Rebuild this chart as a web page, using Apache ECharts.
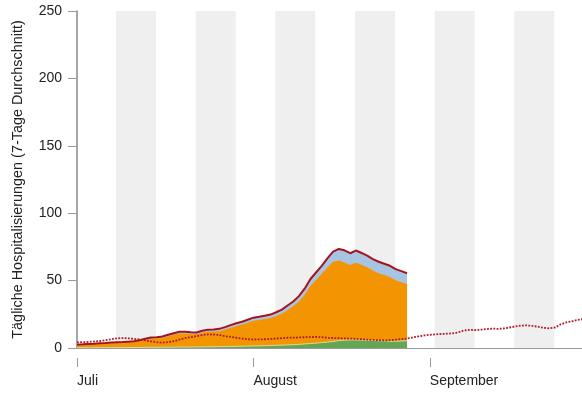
<!DOCTYPE html>
<html><head><meta charset="utf-8">
<script src="https://cdn.jsdelivr.net/npm/echarts@6/dist/echarts.min.js"></script>
<style>html,body{margin:0;padding:0;background:#fff}#c{width:582px;height:395px}</style>
</head><body><div id="c"></div>
<script>
// day index 0 = 1 July
const monthTicks = [0, 31, 62];
const monthLabels = ['Juli', 'August', 'September'];
const yTicks = [0, 50, 100, 150, 200, 250];
// alternating shaded weeks (day offsets)
const weekBandStarts = [6.85, 20.85, 34.85, 48.85, 62.85, 76.85];
const weekBandLength = 7.03;

// vaccinated (green)
const geimpft = [0.2,0.2,0.2,0.2,0.2,0.3,0.3,0.3,0.3,0.3,
  0.4,0.4,0.5,0.5,0.5,0.6,0.6,0.6,0.7,0.7,
  0.7,0.8,0.8,0.9,0.9,1.0,1.0,1.1,1.2,1.3,
  1.4,1.5,1.6,1.7,1.8,2.0,2.1,2.3,2.5,2.7,
  3.0,3.3,3.6,4.0,4.4,4.8,5.5,5.8,6.0,6.0,
  5.8,5.7,5.6,5.4,5.2,5.0,5.0,5.2,5.4];
// unvaccinated (orange)
const ungeimpft = [1.9,2.1,2.4,2.5,2.8,2.9,3.2,3.4,3.5,3.8,
  4.0,4.6,5.5,6.4,6.5,6.9,8.1,9.2,10.0,10.0,
  9.6,9.4,10.6,11.1,11.3,11.5,12.7,14.0,15.2,16.1,
  17.4,18.7,19.2,19.8,20.4,21.7,23.4,25.9,28.4,31.8,
  36.5,42.7,46.9,51.0,55.3,59.1,59.5,57.7,55.5,57.3,
  55.9,54.2,51.9,50.1,48.9,47.7,45.2,43.6,42.1];
// unknown status (light blue)
const unbekannt = [0.4,0.4,0.4,0.5,0.5,0.5,0.5,0.5,0.6,0.6,
  0.6,0.7,0.8,0.9,1.0,1.0,1.1,1.2,1.3,1.3,
  1.3,1.3,1.4,1.5,1.6,1.7,1.8,1.9,2.0,2.1,
  2.2,2.3,2.4,2.5,2.6,2.8,3.0,3.3,3.6,4.0,
  4.5,5.0,5.5,6.0,6.8,7.6,8.5,9.0,8.8,9.0,
  8.8,8.6,8.5,8.5,8.4,8.3,8.3,8.2,8.0];
// previous year comparison (dotted)
const vorjahr = [4.2,4.3,4.5,4.8,5.2,5.8,6.5,7.2,7.3,7.2,
  6.8,6.3,5.6,4.9,4.3,4.0,4.3,5.0,6.2,7.3,
  8.0,8.8,9.5,10.1,10.0,9.6,8.8,8.2,7.6,7.0,
  6.5,6.3,6.4,6.5,6.7,7.0,7.3,7.6,7.7,7.8,
  8.0,8.1,8.2,8.0,7.6,7.4,7.3,7.1,7.0,6.8,
  6.5,6.2,6.0,5.8,5.7,5.8,6.2,6.6,7.0,7.8,
  8.6,9.3,9.8,10.1,10.4,10.6,10.9,11.6,13.0,13.4,
  13.3,13.6,14.0,14.4,14.2,14.5,15.2,15.9,16.6,16.8,
  16.4,15.8,15.0,14.6,15.2,17.5,19.0,19.8,20.8,21.5];

// cumulative tops of the stacked layers
const topGreen = geimpft.slice();
const topOrange = geimpft.map((v, i) => +(v + ungeimpft[i]).toFixed(2));
const total = topOrange.map((v, i) => +(v + unbekannt[i]).toFixed(2));
const pts = arr => arr.map((v, i) => [i, v]);

const FONT = "'Liberation Sans', Arial, Helvetica, sans-serif";
const XMIN = -0.18, XMAX = 88.75;

const chart = echarts.init(document.getElementById('c'), null, {renderer: 'canvas'});
chart.setOption({
  animation: false,
  backgroundColor: '#fff',
  grid: {left: 76, right: 0, top: 11, bottom: 47},
  xAxis: [{
    type: 'value', min: XMIN, max: XMAX,
    axisLine: {show: true, lineStyle: {color: '#999', width: 1.2}},
    axisTick: {show: false}, axisLabel: {show: false}, splitLine: {show: false}
  }, {
    type: 'value', min: XMIN, max: XMAX, position: 'bottom', offset: 10,
    axisLine: {show: false},
    axisTick: {show: true, length: 9, customValues: monthTicks, lineStyle: {color: '#999'}},
    axisLabel: {
      show: true, customValues: monthTicks, align: 'left', margin: 16,
      fontSize: 14, color: '#222', fontFamily: FONT,
      formatter: v => monthLabels[monthTicks.indexOf(Math.round(v))] || ''
    },
    splitLine: {show: false}
  }],
  yAxis: {
    type: 'value', min: yTicks[0], max: yTicks[yTicks.length - 1], interval: 50,
    name: 'Tägliche Hospitalisierungen (7-Tage Durchschnitt)',
    nameLocation: 'middle', nameGap: 51, nameRotate: 90,
    nameTextStyle: {fontSize: 14.4, color: '#222', fontFamily: FONT},
    axisLine: {show: true, lineStyle: {color: '#888', width: 1.5}},
    axisTick: {show: true, length: 9, lineStyle: {color: '#999'}},
    axisLabel: {fontSize: 14, color: '#222', fontFamily: FONT, margin: 14},
    splitLine: {show: false}
  },
  series: [
    {
      type: 'line', data: [], silent: true, z: 0,
      markArea: {
        silent: true,
        itemStyle: {color: '#efefef'},
        data: weekBandStarts.map(s => [{xAxis: s}, {xAxis: s + weekBandLength}])
      }
    },
    {
      name: 'unbekannt', type: 'line', data: pts(total), symbol: 'none', z: 2,
      lineStyle: {width: 0}, areaStyle: {color: '#a8c4e3', opacity: 1, origin: 'start'}
    },
    {
      name: 'ungeimpft', type: 'line', data: pts(topOrange), symbol: 'none', z: 3,
      lineStyle: {width: 0}, areaStyle: {color: '#f39502', opacity: 1, origin: 'start'}
    },
    {
      name: 'geimpft', type: 'line', data: pts(topGreen), symbol: 'none', z: 4,
      lineStyle: {width: 1, color: '#dcd9a2'}, areaStyle: {color: '#63a653', opacity: 1, origin: 'start'}
    },
    {
      name: 'total', type: 'line', data: pts(total), symbol: 'none', z: 5,
      lineStyle: {width: 2, color: '#a3141f'}
    },
    {
      name: 'Vorjahr', type: 'line', data: pts(vorjahr), symbol: 'none', z: 6,
      lineStyle: {width: 1.8, color: '#b01a24', type: [1.8, 1.4]}
    }
  ]
});
</script></body></html>
